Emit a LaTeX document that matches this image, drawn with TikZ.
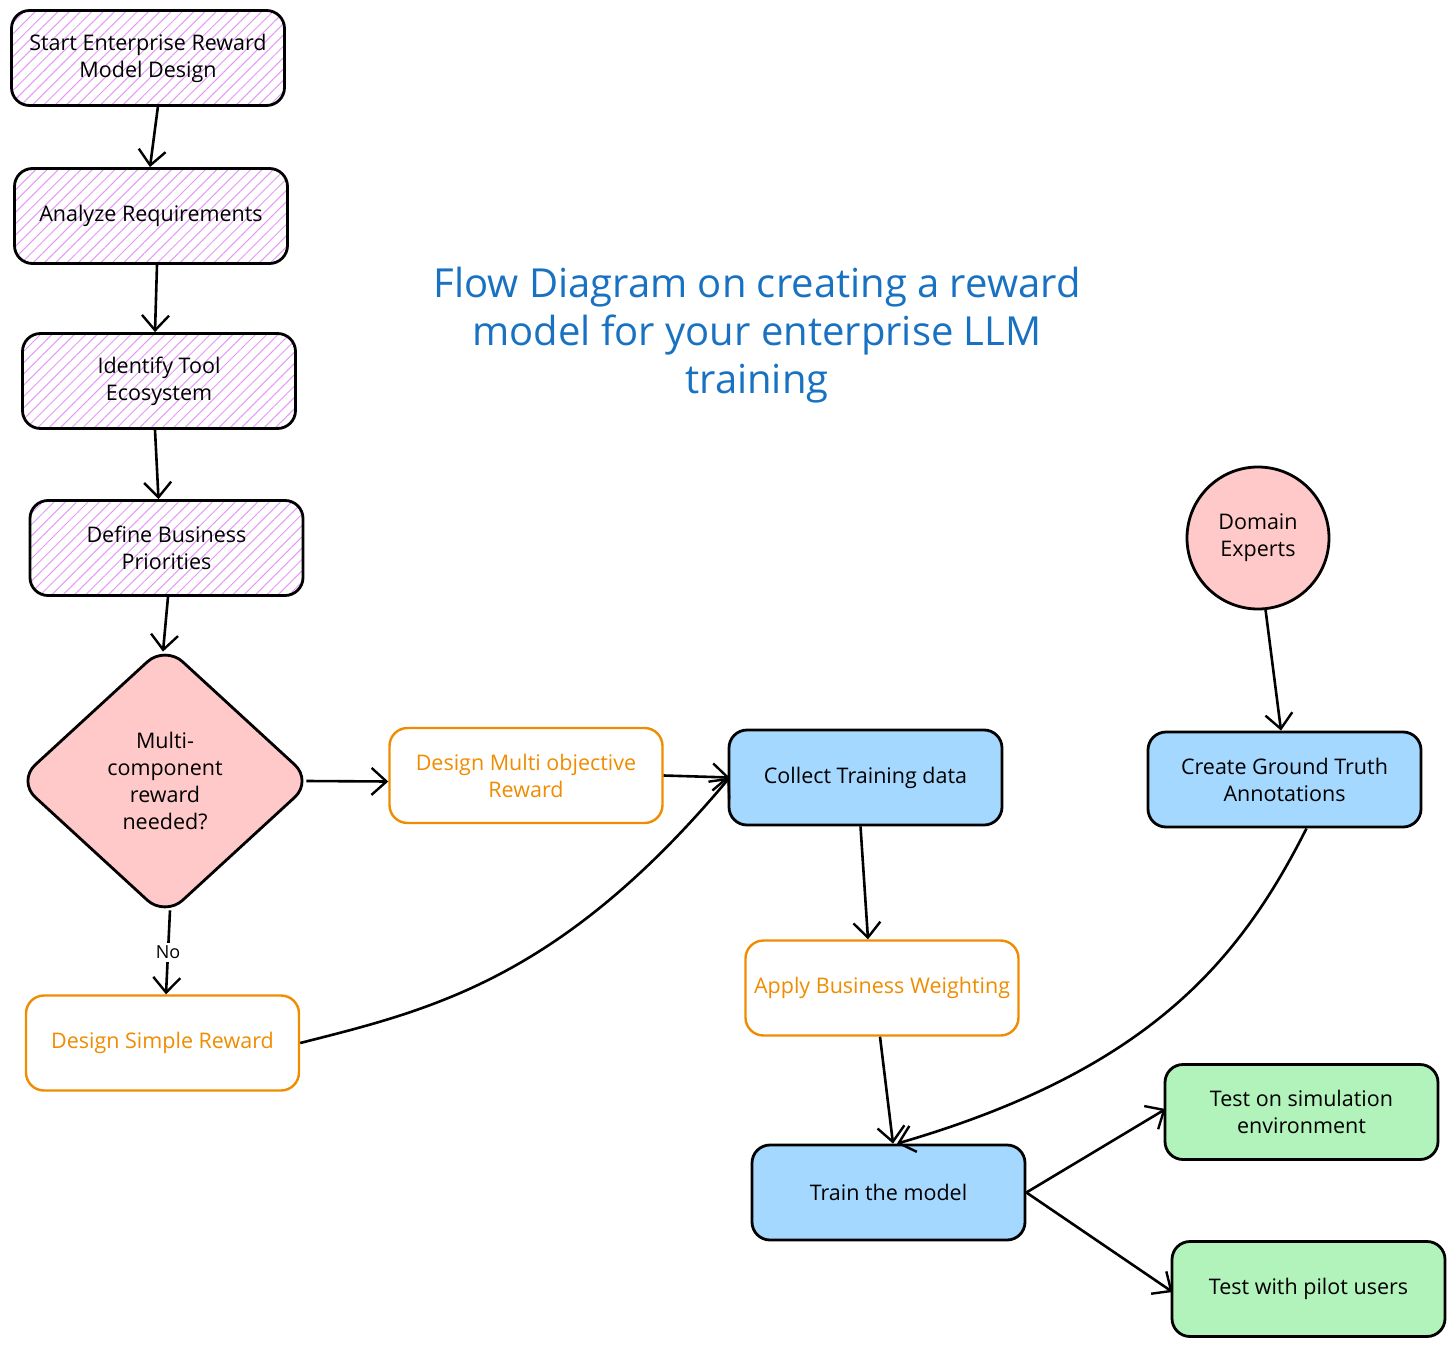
\documentclass[tikz,border=0pt]{standalone}
\usepackage{fontspec}
\setmainfont{Open Sans}
\usetikzlibrary{shapes.geometric,arrows.meta,patterns.meta,calc}
\definecolor{hatchc}{HTML}{E599F7}
\definecolor{pinkf}{HTML}{FFC9C9}
\definecolor{bluef}{HTML}{A5D8FF}
\definecolor{greenf}{HTML}{B2F2BB}
\definecolor{orangec}{HTML}{F08C00}
\definecolor{titlec}{HTML}{1971C2}
\tikzset{
  box/.style={draw=black, line width=2.8pt, rounded corners=18pt, minimum width=273pt,
    minimum height=95pt, align=center, inner sep=0pt, font=\fontsize{21.5}{27}\selectfont},
  hatched/.style={box, pattern={Lines[angle=45,distance=8pt,line width=1pt]}, pattern color=hatchc},
  orangebox/.style={box, draw=orangec, fill=white, text=orangec, line width=2.4pt},
  bluebox/.style={box, fill=bluef},
  greenbox/.style={box, fill=greenf},
  conn/.style={draw=black, line width=2.6pt, -{Straight Barb[length=15pt,width=27pt,line width=2.4pt]}},
}
\begin{document}
\begin{tikzpicture}[x=1pt,y=-1pt]
\useasboundingbox (0,0) rectangle (1456,1348);
\node[hatched] (start) at (148,58) {Start Enterprise Reward\\Model Design};
\node[hatched] (analyze) at (151,216) {Analyze Requirements};
\node[hatched] (identify) at (159,381) {Identify Tool\\Ecosystem};
\node[hatched] (define) at (166.5,548) {Define Business\\Priorities};
\node[draw=black, line width=2.8pt, fill=pinkf, diamond, aspect=1.09, minimum width=296pt,
  minimum height=272pt, rounded corners=24pt, align=center, inner sep=0pt,
  font=\fontsize{21.5}{27}\selectfont] (dec) at (165,781) {Multi-\\component\\reward\\needed?};
\node[orangebox] (multi) at (526,775.5) {Design Multi objective\\Reward};
\node[bluebox] (collect) at (865.5,777.5) {Collect Training data};
\node[bluebox] (create) at (1284.5,779.5) {Create Ground Truth\\Annotations};
\node[draw=black, line width=2.8pt, fill=pinkf, circle, minimum size=142pt, align=center,
  inner sep=0pt, font=\fontsize{21.5}{27}\selectfont] (domain) at (1258,538) {Domain\\Experts};
\node[orangebox] (simple) at (162.5,1043) {Design Simple Reward};
\node[orangebox] (apply) at (882,988) {Apply Business Weighting};
\node[bluebox] (train) at (888.5,1192.5) {Train the model};
\node[greenbox] (sim) at (1301.5,1112) {Test on simulation\\environment};
\node[greenbox] (pilot) at (1308.5,1289) {Test with pilot users};
\node[text=titlec, align=center, font=\fontsize{40}{48}\selectfont] (title) at (757,335)
  {Flow Diagram on creating a reward\\model for your enterprise LLM\\training};

\draw[conn] ([xshift=10pt]start.south) -- ([xshift=-1pt]analyze.north);
\draw[conn] ([xshift=6pt]analyze.south) -- ([xshift=-4pt]identify.north);
\draw[conn] ([xshift=-4pt]identify.south) -- ([xshift=-8pt]define.north);
\draw[conn] ([xshift=1.5pt]define.south) -- ([xshift=-2pt,yshift=-8pt]dec.north);
\draw[conn] ([xshift=-8pt]dec.east) -- ([yshift=-6pt]multi.west);
\draw[conn] (multi.east) -- ([xshift=2pt]collect.west);
\draw[conn] ([xshift=5pt,yshift=8pt]dec.south) -- node[fill=white, inner sep=3pt, font=\fontsize{18}{20}\selectfont] (no) {No} ([xshift=3.5pt]simple.north);
\draw[conn] (simple.east) .. controls (430,1010) and (560,980) .. ([xshift=2pt]collect.west);
\draw[conn] ([xshift=-5pt]collect.south) -- ([xshift=-14pt]apply.north);
\draw[conn] ([xshift=-2pt]apply.south) -- ([xshift=4.5pt]train.north);
\draw[conn] ([xshift=22pt]create.south) .. controls (1240,960) and (1150,1070) .. ([xshift=8.5pt]train.north);
\draw[conn] (domain.-84) -- ([xshift=-3.5pt]create.north);
\draw[conn] (train.east) -- ([xshift=2pt,yshift=3pt]sim.west);
\draw[conn] (train.east) -- ([xshift=2pt,yshift=-3pt]pilot.west);
\end{tikzpicture}
\end{document}
